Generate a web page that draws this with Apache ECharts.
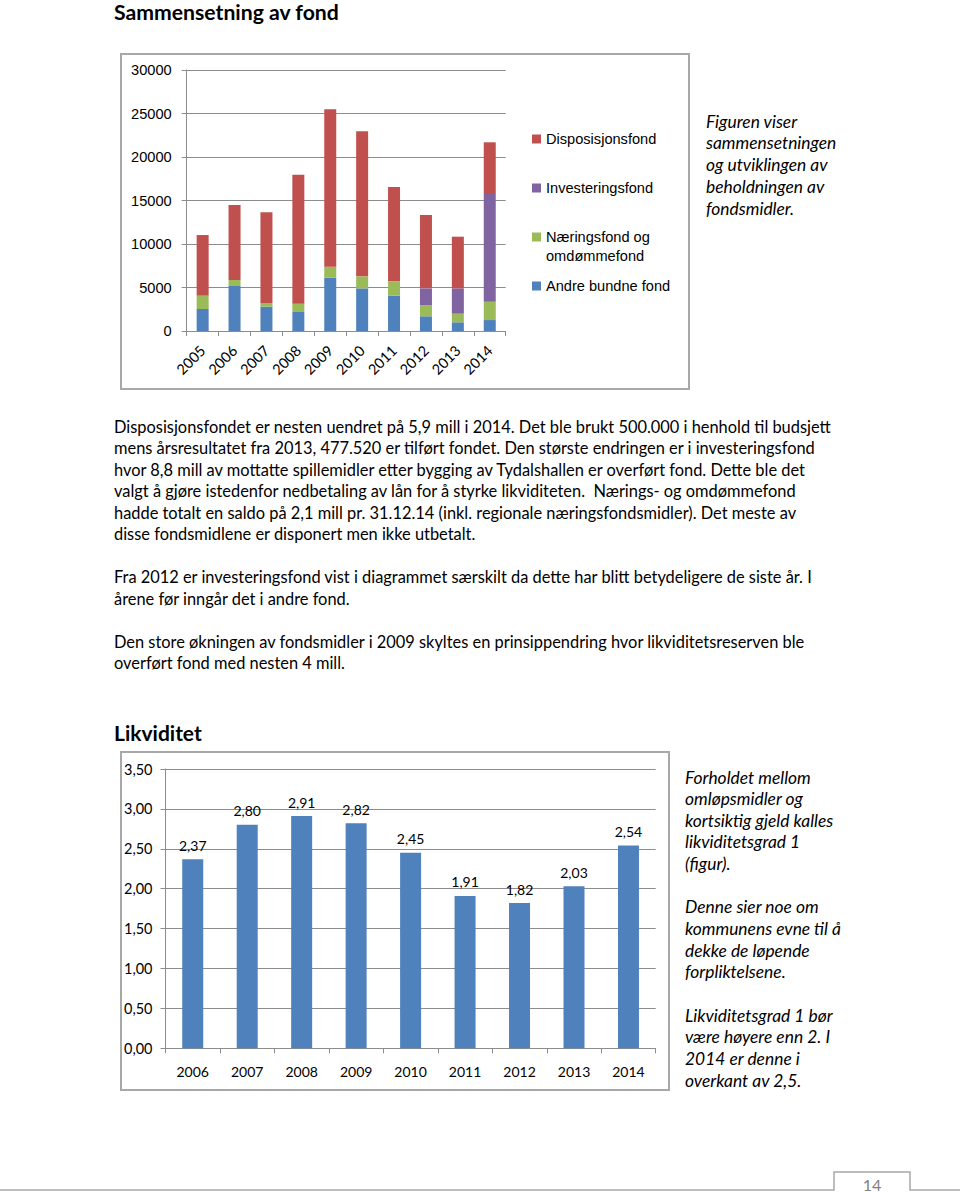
<!DOCTYPE html>
<html><head><meta charset="utf-8">
<script src="https://cdn.jsdelivr.net/npm/echarts/dist/echarts.min.js"></script>
<style>html,body{margin:0;padding:0;background:#fff}#c{width:960px;height:1192px}</style>
</head><body><div id="c"></div><script>
// ---- data: Sammensetning av fond ----
const fundYears = ['2005','2006','2007','2008','2009','2010','2011','2012','2013','2014'];
const andreBundne = [2530,5170,2800,2260,6130,4900,4060,1690,1000,1260];
const naeringsfond = [1530,690,420,880,1260,1380,1650,1260,990,2110];
const investeringsfond = [0,0,0,0,0,0,0,1950,2910,12380];
const disposisjonsfond = [6970,8620,10420,14830,18090,16670,10840,8420,5940,5940];
const fundNames = ['Disposisjonsfond','Investeringsfond','Næringsfond og\nomdømmefond','Andre bundne fond'];
// ---- data: Likviditet ----
const liqYears = ['2006','2007','2008','2009','2010','2011','2012','2013','2014'];
const liqValues = [2.37,2.80,2.91,2.82,2.45,1.91,1.82,2.03,2.54];
// ---- texts ----
const title1 = 'Sammensetning av fond';
const title2 = 'Likviditet';
const sideText1 = ['Figuren viser','sammensetningen','og utviklingen av','beholdningen av','fondsmidler.'];
const bodyText = [
 'Disposisjonsfondet er nesten uendret på 5,9 mill i 2014. Det ble brukt 500.000 i henhold til budsjett',
 'mens årsresultatet fra 2013, 477.520 er tilført fondet. Den største endringen er i investeringsfond',
 'hvor 8,8 mill av mottatte spillemidler etter bygging av Tydalshallen er overført fond. Dette ble det',
 'valgt å gjøre istedenfor nedbetaling av lån for å styrke likviditeten.  Nærings- og omdømmefond',
 'hadde totalt en saldo på 2,1 mill pr. 31.12.14 (inkl. regionale næringsfondsmidler). Det meste av',
 'disse fondsmidlene er disponert men ikke utbetalt.',
 '',
 'Fra 2012 er investeringsfond vist i diagrammet særskilt da dette har blitt betydeligere de siste år. I',
 'årene før inngår det i andre fond.',
 '',
 'Den store økningen av fondsmidler i 2009 skyltes en prinsippendring hvor likviditetsreserven ble',
 'overført fond med nesten 4 mill.'
];
const sideText2 = ['Forholdet mellom','omløpsmidler og','kortsiktig gjeld kalles','likviditetsgrad 1','(figur).','',
 'Denne sier noe om','kommunens evne til å','dekke de løpende','forpliktelsene.','',
 'Likviditetsgrad 1 bør','være høyere enn 2. I','2014 er denne i','overkant av 2,5.'];
const pageNo = '14';

const RED='#C0504D', PURPLE='#8064A2', GREEN='#9BBB59', BLUE='#4F81BD';
const GRID='#8C8C8C', FRAME='#A8A8A8';
const SANS='Lato';

function lines(arr, x, y0, lh, font){
  const out=[];
  arr.forEach((t,i)=>{ if(t) out.push({type:'text', x:x, y:y0+i*lh, silent:true,
    style:{text:t, fill:'#000', font:font, verticalAlign:'middle', align:'left'}}); });
  return out;
}

const graphics = [
  {type:'rect', shape:{x:121,y:54,width:568,height:335}, style:{fill:'none',stroke:FRAME,lineWidth:2}, silent:true},
  {type:'rect', shape:{x:121,y:752,width:548,height:338}, style:{fill:'none',stroke:FRAME,lineWidth:2}, silent:true},
  {type:'text', x:114, y:12, style:{text:title1, font:'bold 21.2px '+SANS, fill:'#000', verticalAlign:'middle'}},
  {type:'text', x:114, y:732, style:{text:title2, font:'bold 21px '+SANS, fill:'#000', verticalAlign:'middle'}},
  ...lines(sideText1, 706, 121, 21.9, 'italic 17.4px '+SANS),
  ...lines(bodyText, 114, 426, 21.5, '16.4px '+SANS),
  ...lines(sideText2, 685, 777, 21.65, 'italic 17.4px '+SANS),
  {type:'polyline', shape:{points:[[0,1190],[834,1190],[834,1172],[910,1172],[910,1190],[960,1190]]},
    style:{fill:'none',stroke:FRAME,lineWidth:1.5}, silent:true},
  {type:'text', x:872, y:1184, style:{text:pageNo, font:'16px '+SANS, fill:'#808080', align:'center', verticalAlign:'middle'}}
];

const legendTops=[129.5,178.5,208.5,276.5];
const legendColors=[RED,PURPLE,GREEN,BLUE];
const legends = fundNames.map((n,i)=>({
  data:[{name:n, itemStyle:{color:legendColors[i]}}], left:532, top:legendTops[i], orient:'vertical',
  itemWidth:9, itemHeight:9, icon:'rect', padding:0, selectedMode:false,
  formatter: i===2 ? (nm => '\n' + nm) : (nm => nm),
  textStyle:{fontFamily:'Liberation Sans', fontSize:14.6, color:'#000', lineHeight:19}
}));

const option = {
  animation:false,
  backgroundColor:'#fff',
  graphic: graphics,
  legend: legends,
  grid:[
    {left:186.7, top:70, width:319, height:261, containLabel:false},
    {left:165.5, top:769, width:490.2, height:279.3, containLabel:false}
  ],
  xAxis:[
    {type:'category', gridIndex:0, data:fundYears, boundaryGap:true,
     axisLine:{lineStyle:{color:GRID,width:1}}, axisTick:{show:true,length:5,lineStyle:{color:GRID}},
     axisLabel:{rotate:45, margin:17, fontFamily:SANS, fontSize:14.5, color:'#000', interval:0}},
    {type:'category', gridIndex:1, data:liqYears, boundaryGap:true,
     axisLine:{lineStyle:{color:GRID,width:1}}, axisTick:{show:true,length:5,lineStyle:{color:GRID}},
     axisLabel:{margin:16, fontFamily:SANS, fontSize:14, color:'#000', interval:0}}
  ],
  yAxis:[
    {type:'value', gridIndex:0, min:0, max:30000, interval:5000,
     axisLine:{show:true,lineStyle:{color:GRID,width:1}}, axisTick:{show:true,length:5,lineStyle:{color:GRID}},
     splitLine:{lineStyle:{color:GRID,width:1}},
     axisLabel:{margin:15, fontFamily:'Liberation Sans', fontSize:14.6, color:'#000', formatter:v=>String(v)}},
    {type:'value', gridIndex:1, min:0, max:3.5, interval:0.5,
     axisLine:{show:true,lineStyle:{color:GRID,width:1}}, axisTick:{show:true,length:5,lineStyle:{color:GRID}},
     splitLine:{lineStyle:{color:GRID,width:1}},
     axisLabel:{margin:13, fontFamily:SANS, fontSize:14.5, color:'#000',
       formatter:v=>v.toFixed(2).replace('.',',')}}
  ],
  series:[
    {name:fundNames[3], type:'bar', stack:'f', xAxisIndex:0, yAxisIndex:0, data:andreBundne, barWidth:12, itemStyle:{color:BLUE}},
    {name:fundNames[2], type:'bar', stack:'f', xAxisIndex:0, yAxisIndex:0, data:naeringsfond, barWidth:12, itemStyle:{color:GREEN}},
    {name:fundNames[1], type:'bar', stack:'f', xAxisIndex:0, yAxisIndex:0, data:investeringsfond, barWidth:12, itemStyle:{color:PURPLE}},
    {name:fundNames[0], type:'bar', stack:'f', xAxisIndex:0, yAxisIndex:0, data:disposisjonsfond, barWidth:12, itemStyle:{color:RED}},
    {name:'Likviditetsgrad 1', type:'bar', xAxisIndex:1, yAxisIndex:1, data:liqValues, barWidth:21, itemStyle:{color:BLUE},
     label:{show:true, position:'top', distance:7, fontFamily:SANS, fontSize:14, color:'#000',
       formatter:p=>p.value.toFixed(2).replace('.',',')}}
  ]
};
const chart = echarts.init(document.getElementById('c'), null, {renderer:'svg'});
chart.setOption(option);
</script></body></html>
